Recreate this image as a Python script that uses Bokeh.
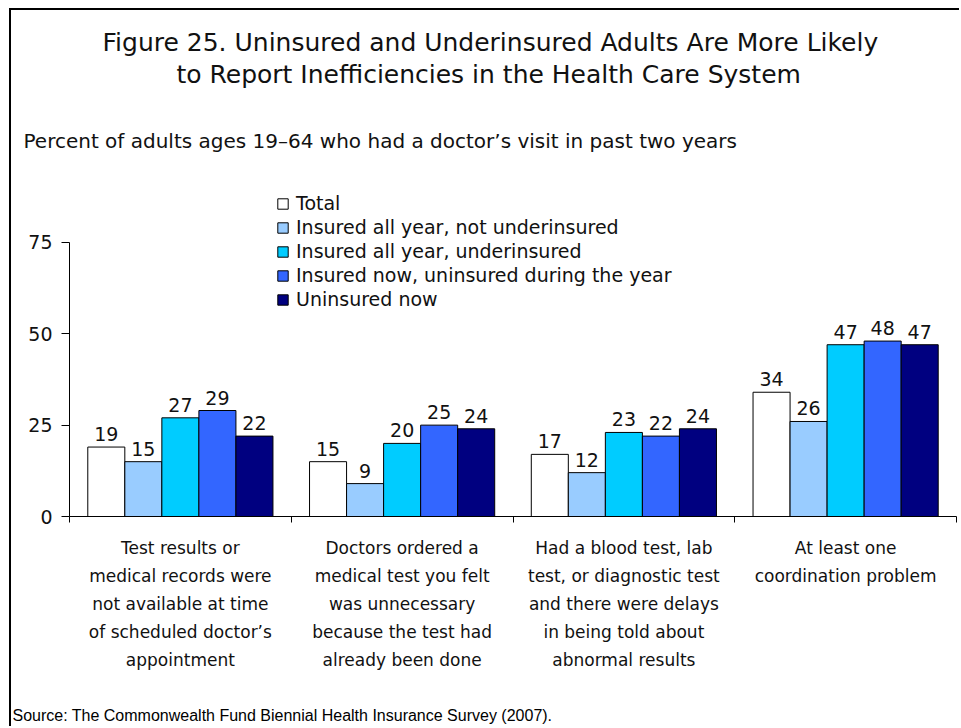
from bokeh.plotting import figure
from bokeh.models import (Range1d, FixedTicker, Legend, LegendItem, Title,
                          ColumnDataSource)
from bokeh.core.properties import value
from bokeh.embed import file_html
from bokeh.resources import INLINE
import numpy as np

# ---------------- data ----------------
categories = [
    "Test results or\nmedical records were\nnot available at time\nof scheduled doctor\u2019s\nappointment",
    "Doctors ordered a\nmedical test you felt\nwas unnecessary\nbecause the test had\nalready been done",
    "Had a blood test, lab\ntest, or diagnostic test\nand there were delays\nin being told about\nabnormal results",
    "At least one\ncoordination problem",
]
series_names = [
    "Total",
    "Insured all year, not underinsured",
    "Insured all year, underinsured",
    "Insured now, uninsured during the year",
    "Uninsured now",
]
total = [19, 15, 17, 34]
insured_not_under = [15, 9, 12, 26]
insured_under = [27, 20, 23, 47]
insured_now_uninsured_during = [29, 25, 22, 48]
uninsured_now = [22, 24, 24, 47]
series_values = [total, insured_not_under, insured_under,
                 insured_now_uninsured_during, uninsured_now]
colors = ["#FFFFFF", "#99CCFF", "#00CCFF", "#3366FF", "#000080"]
y_ticks = [0, 25, 50, 75]

title_line1 = "Figure 25. Uninsured and Underinsured Adults Are More Likely"
title_line2 = "to Report Inefficiencies in the Health Care System"
subtitle = "Percent of adults ages 19\u201364 who had a doctor\u2019s visit in past two years"
source_note = "Source: The Commonwealth Fund Biennial Health Insurance Survey (2007)."

FONT = "DejaVu Sans"
TXT = "#111111"

# ---------------- figure ----------------
p = figure(width=950, height=718,
           x_range=Range1d(0, len(categories)), y_range=Range1d(0, 89.2),
           output_backend="svg", toolbar_location=None, tools="",
           min_border_left=58, min_border_right=5,
           min_border_top=180, min_border_bottom=212)
p.styles = {"margin-left": "9px", "margin-top": "8px",
            "border-left": "2px solid #000000", "border-top": "2px solid #000000"}
p.outline_line_color = None
p.grid.visible = False
p.background_fill_color = "white"
p.border_fill_color = "white"

n = len(series_names)
bar_w = 0.167
cat_idx = np.arange(len(categories))
renderers = []
for j, (vals, col) in enumerate(zip(series_values, colors)):
    xs = cat_idx + 0.5 + (j - (n - 1) / 2) * bar_w
    src = ColumnDataSource(dict(x=xs, top=vals, label=[str(v) for v in vals]))
    r = p.vbar(x="x", top="top", bottom=0, width=bar_w, source=src,
               fill_color=col, line_color="#000000", line_width=1)
    p.text(x="x", y="top", text="label", source=src,
           text_align="center", text_baseline="bottom", y_offset=-6,
           text_font=value(FONT), text_font_size="19px", text_color=TXT)
    renderers.append(r)

# x axis: labels at category centres, ticks at boundaries (minor ticks)
xa = p.xaxis[0]
xa.ticker = FixedTicker(ticks=list(cat_idx + 0.5),
                        minor_ticks=list(range(len(categories) + 1)))
label_map = {float(i + 0.5): c for i, c in enumerate(categories)}
# an extra blank line under the first label leaves room above the source note
label_map[0.5] = categories[0] + "\n\u00a0"
xa.major_label_overrides = label_map
xa.major_tick_line_color = None
xa.major_tick_in = 0
xa.major_tick_out = 0
xa.minor_tick_in = 0
xa.minor_tick_out = 6
xa.minor_tick_line_color = "#000000"
xa.axis_line_color = "#000000"
xa.major_label_text_font = FONT
xa.major_label_text_font_size = "17px"
xa.major_label_text_color = TXT
xa.major_label_text_line_height = 1.4
xa.major_label_standoff = 15

ya = p.yaxis[0]
ya.ticker = FixedTicker(ticks=y_ticks)
ya.bounds = (0, 75)
ya.major_tick_in = 0
ya.major_tick_out = 8
ya.minor_tick_line_color = None
ya.axis_line_color = "#000000"
ya.major_tick_line_color = "#000000"
ya.major_label_text_font = FONT
ya.major_label_text_font_size = "19px"
ya.major_label_text_color = TXT
ya.major_label_standoff = 9

legend = Legend(
    items=[LegendItem(label=nm, renderers=[r]) for nm, r in zip(series_names, renderers)],
    location=(207, 206), orientation="vertical",
    glyph_width=13, glyph_height=13, label_height=22, spacing=2,
    label_standoff=7, padding=0, margin=0,
    border_line_color=None, background_fill_alpha=0,
    label_text_font=FONT, label_text_font_size="19px", label_text_color=TXT,
)
p.add_layout(legend)

# titles stacked outward from the frame: subtitle first, then the two title lines
p.add_layout(Title(text=subtitle, align="left", offset=-46, standoff=75,
                   text_font=FONT, text_font_size="20px",
                   text_font_style="normal", text_color=TXT), "above")
p.add_layout(Title(text=title_line2, align="left", offset=107, standoff=2,
                   text_font=FONT, text_font_size="25px",
                   text_font_style="normal", text_color=TXT), "above")
p.add_layout(Title(text=title_line1, align="left", offset=33, standoff=0,
                   text_font=FONT, text_font_size="25px",
                   text_font_style="normal", text_color=TXT), "above")

# source note below the category labels
p.add_layout(Title(text=source_note, align="left", offset=-57, standoff=8,
                   text_font="Liberation Sans", text_font_size="16px",
                   text_font_style="normal", text_color="#000000"), "below")

open("out.html", "w").write(file_html(p, INLINE))
